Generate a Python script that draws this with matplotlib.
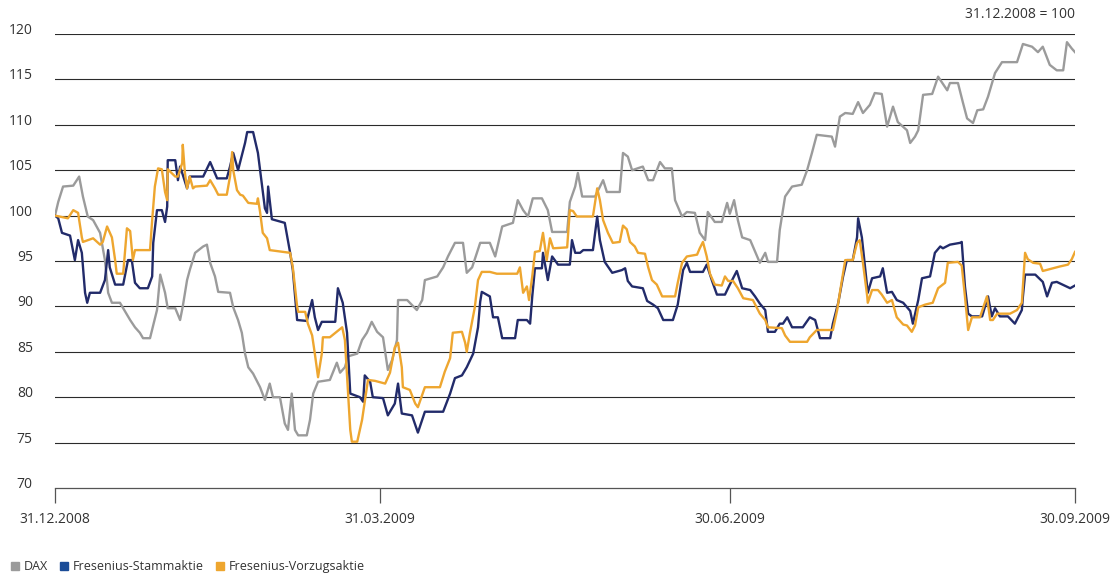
import matplotlib
matplotlib.use('Agg')
import matplotlib.pyplot as plt
from matplotlib.lines import Line2D

plt.rcParams['font.family'] = ['Open Sans', 'DejaVu Sans']

# Handelstage seit 31.12.2008, Index 31.12.2008 = 100
dax_t = [0, 0.6, 1.5, 3.4, 4.5, 5.2, 6.1, 7.1, 8.4, 9.3, 9.9, 10.6, 12.1, 14.0, 14.9, 15.8, 16.4, 17.7, 19.0, 19.6,
         20.5, 21.0, 22.4, 23.3, 23.8, 24.6, 25.1, 26.1, 27.6, 28.3, 28.9, 29.8, 30.4, 32.6, 33.2, 34.1, 34.8, 35.4,
         36.0, 36.9, 38.2, 39.1, 40.0, 40.6, 41.9, 42.8, 43.4, 44.1, 44.7, 45.3, 46.9, 47.5, 48.1, 49.0, 51.2, 52.5,
         53.1, 54.0, 54.6, 56.3, 57.2, 58.1, 59.0, 60.0, 61.1, 62.0, 62.8, 63.7, 63.9, 65.6, 67.4, 68.4, 68.9, 71.2,
         72.3, 73.2, 74.5, 76.0, 76.7, 77.7, 78.6, 79.2, 81.0, 82.0, 83.3, 85.3, 86.2, 87.2, 88.1, 89.0, 90.7, 91.8,
         92.6, 95.4, 95.9, 96.9, 97.4, 98.2, 100.6, 102.1, 102.8, 105.2, 105.8, 106.7, 107.5, 109.5, 110.5, 111.4,
         112.7, 113.6, 114.9, 115.5, 116.8, 117.7, 119.2, 120.1, 121.1, 121.6, 122.9, 124.2, 125.2, 125.7, 126.5,
         127.2, 128.0, 129.5, 130.8, 131.3, 132.3, 132.8, 134.5, 135.0, 136.0, 137.3, 139.1, 140.1, 141.0, 141.9,
         144.7, 145.3, 146.2, 147.2, 148.6, 149.6, 150.5, 151.8, 152.7, 154.0, 155.0, 156.1, 157.0, 158.7, 159.3,
         160.2, 160.8, 161.7, 163.4, 164.5, 166.2, 166.7, 168.2, 169.1, 169.9, 171.0, 171.8, 172.9, 173.8, 175.1,
         176.4, 179.2, 180.3, 182.0, 183.1, 184.0, 185.3, 186.6, 187.8, 188.5, 189.4, 190.0]
dax = [100, 101.5, 103.2, 103.3, 104.3, 102.1, 99.9, 99.5, 98.1, 95.1, 91.5, 90.4, 90.4, 88.5, 87.7, 87.1, 86.5, 86.5,
       89.6, 93.5, 91.5, 89.8, 89.8, 88.5, 90.0, 92.9, 94.0, 95.9, 96.6, 96.8, 94.8, 93.3, 91.6, 91.5, 89.9, 88.5,
       87.1, 84.8, 83.3, 82.6, 81.1, 79.7, 81.5, 80.0, 80.0, 77.1, 76.4, 80.4, 76.4, 75.8, 75.8, 77.5, 80.4, 81.7,
       81.9, 83.8, 82.7, 83.3, 84.5, 84.8, 86.3, 87.1, 88.3, 87.2, 86.6, 83.0, 84.1, 86.3, 90.7, 90.7, 89.6, 90.7,
       92.9, 93.3, 94.3, 95.5, 97.0, 97.0, 93.7, 94.3, 95.9, 97.0, 97.0, 95.5, 98.8, 99.2, 101.7, 100.6, 99.9, 101.9,
       101.9, 100.6, 98.2, 98.2, 101.5, 103.2, 104.7, 102.1, 102.1, 103.9, 102.6, 102.6, 106.9, 106.5, 105.0, 105.4,
       103.9, 103.9, 105.9, 105.2, 105.2, 101.7, 99.9, 100.4, 100.3, 98.1, 97.3, 100.4, 99.3, 99.3, 101.4, 100.2,
       101.7, 99.5, 97.6, 97.3, 95.5, 94.8, 95.9, 94.9, 94.9, 98.4, 102.1, 103.2, 103.4, 105.0, 106.9, 108.9, 108.7,
       107.6, 110.9, 111.3, 111.2, 112.5, 111.3, 112.2, 113.5, 113.4, 109.8, 112.0, 110.3, 109.4, 108.0, 108.7,
       109.4, 113.3, 113.4, 115.3, 113.8, 114.6, 114.6, 112.5, 110.7, 110.2, 111.6, 111.7, 113.1, 115.7, 116.9,
       116.9, 118.9, 118.6, 118.0, 118.6, 116.6, 116.0, 116.0, 119.1, 118.4, 118.0]

stamm_t = [0, 0.6, 1.3, 2.8, 3.7, 4.3, 5.0, 5.6, 6.0, 6.5, 8.4, 9.3, 9.9, 10.2, 11.2, 12.7, 13.6, 14.3, 14.9, 15.8,
           17.3, 18.1, 18.3, 19.0, 19.9, 20.5, 20.9, 21.0, 22.4, 22.9, 23.3, 23.8, 24.6, 25.1, 27.6, 28.9, 30.2, 32.0,
           32.6, 33.2, 34.1, 35.4, 35.8, 36.9, 37.8, 38.6, 39.1, 39.5, 39.7, 40.4, 42.8, 43.8, 44.3, 45.1, 46.9, 47.9,
           48.4, 49.0, 49.7, 52.2, 52.7, 53.6, 54.4, 55.0, 56.8, 57.4, 57.7, 58.7, 59.2, 61.1, 62.0, 63.3, 63.9, 64.6,
           66.5, 67.6, 68.9, 72.3, 73.6, 74.5, 75.8, 76.7, 77.9, 78.8, 79.2, 79.5, 81.0, 81.6, 82.5, 83.3, 85.7, 86.2,
           87.9, 88.5, 88.9, 89.4, 90.7, 90.9, 91.8, 92.6, 93.1, 93.7, 95.9, 96.3, 96.9, 97.8, 98.4, 100.2, 101.0,
           101.5, 102.4, 103.8, 105.6, 106.2, 106.7, 107.5, 109.5, 110.3, 111.4, 112.3, 113.3, 115.1, 116.0, 117.0,
           117.7, 118.3, 120.7, 121.4, 122.4, 123.3, 124.8, 125.7, 127.0, 128.0, 129.5, 130.4, 131.3, 132.3, 132.8,
           134.1, 135.0, 135.6, 136.4, 137.3, 139.3, 140.6, 141.6, 142.5, 144.4, 144.9, 145.9, 146.8, 147.5, 148.6,
           149.4, 149.6, 150.3, 150.9, 151.4, 152.2, 153.7, 154.2, 155.0, 155.9, 156.8, 158.0, 159.3, 159.8, 160.8,
           161.5, 163.0, 163.9, 164.9, 165.4, 166.7, 168.6, 168.9, 169.5, 170.1, 170.8, 172.7, 173.8, 174.5, 175.1,
           176.0, 177.5, 178.8, 180.1, 180.3, 180.7, 182.6, 184.0, 184.8, 185.7, 186.6, 189.1, 190.0]
stamm = [100, 99.7, 98.1, 97.8, 95.1, 97.3, 95.9, 91.5, 90.4, 91.5, 91.5, 92.9, 96.2, 94.3, 92.4, 92.4, 95.1, 95.1,
         92.6, 92.0, 92.0, 93.3, 97.0, 100.6, 100.6, 99.3, 101.0, 106.1, 106.1, 103.9, 105.4, 104.5, 103.0, 104.3,
         104.3, 105.9, 104.1, 104.1, 105.4, 106.9, 105.0, 108.0, 109.2, 109.2, 106.9, 103.2, 100.8, 100.3, 103.2,
         99.6, 99.2, 95.9, 94.0, 88.5, 88.4, 90.7, 88.8, 87.4, 88.3, 88.3, 92.0, 90.4, 87.1, 80.4, 80.0, 79.5, 82.4,
         81.7, 80.0, 79.9, 78.0, 79.3, 81.5, 78.2, 78.0, 76.1, 78.4, 78.4, 80.4, 82.1, 82.4, 83.3, 84.8, 87.7, 90.5,
         91.6, 91.1, 88.8, 88.8, 86.5, 86.5, 88.5, 88.5, 88.1, 91.1, 94.2, 94.2, 95.9, 92.9, 95.5, 95.1, 94.6, 94.6,
         97.3, 95.9, 95.9, 96.2, 96.2, 99.9, 97.3, 94.9, 93.7, 94.0, 94.2, 92.8, 92.2, 92.0, 90.6, 90.2, 89.8, 88.5,
         88.5, 90.2, 94.0, 94.8, 93.8, 93.8, 94.6, 92.8, 91.3, 91.3, 92.4, 93.9, 92.0, 91.8, 91.1, 90.3, 89.6, 87.2,
         87.2, 88.1, 88.1, 88.8, 87.7, 87.7, 88.8, 88.5, 86.5, 86.5, 88.1, 90.4, 93.3, 95.1, 95.1, 97.6, 99.7, 97.6,
         94.3, 91.5, 93.1, 93.3, 94.2, 91.5, 91.6, 90.7, 90.4, 89.5, 88.1, 90.7, 93.1, 93.3, 95.9, 96.6, 96.4, 96.8,
         97.0, 97.1, 92.2, 89.2, 88.9, 88.9, 91.1, 88.9, 89.8, 88.9, 88.9, 88.1, 89.6, 91.1, 93.5, 93.5, 92.7, 91.1,
         92.6, 92.7, 92.0, 92.3]

vorzug_t = [0, 2.4, 3.4, 4.3, 5.0, 5.2, 7.1, 8.4, 8.9, 9.7, 10.6, 11.2, 11.5, 12.7, 13.4, 14.0, 14.5, 14.9, 17.7,
            18.1, 18.6, 19.2, 19.9, 20.5, 20.9, 21.0, 22.4, 22.9, 23.7, 23.8, 24.2, 24.6, 25.1, 25.7, 26.1, 28.3,
            28.9, 29.8, 30.4, 32.0, 32.6, 33.0, 33.2, 33.9, 34.5, 35.0, 36.0, 37.6, 37.8, 38.2, 38.7, 39.5, 40.0,
            43.8, 44.3, 45.1, 45.3, 46.6, 47.1, 47.9, 48.4, 49.0, 49.7, 49.9, 51.2, 53.5, 54.0, 54.6, 55.0, 55.3,
            56.3, 57.2, 58.3, 59.6, 61.5, 62.4, 63.3, 63.9, 64.6, 64.8, 66.1, 67.1, 67.6, 68.9, 71.7, 72.6, 73.6,
            74.1, 75.8, 76.4, 76.7, 77.3, 78.2, 78.8, 79.5, 81.0, 82.3, 86.1, 86.6, 87.2, 87.9, 88.3, 88.9, 89.4,
            90.3, 90.9, 91.6, 92.2, 92.8, 95.4, 95.9, 96.5, 97.2, 100.2, 101.0, 101.5, 102.1, 103.0, 103.9, 105.2,
            105.8, 106.5, 107.1, 108.0, 108.6, 109.9, 110.5, 111.2, 112.1, 113.1, 115.5, 116.0, 116.8, 117.7, 119.6,
            120.1, 120.7, 121.4, 122.0, 122.9, 124.2, 124.8, 125.4, 126.3, 127.2, 128.2, 130.0, 131.3, 132.3, 132.8,
            135.4, 136.0, 136.9, 140.1, 140.6, 141.9, 144.9, 145.7, 146.2, 147.2, 148.6, 149.4, 149.9, 150.5, 151.3,
            151.4, 152.2, 153.3, 154.0, 155.0, 155.9, 156.8, 158.0, 158.7, 159.6, 160.2, 160.8, 162.1, 163.5, 164.5,
            165.8, 166.3, 168.2, 168.9, 169.5, 170.1, 170.8, 172.3, 173.6, 174.2, 174.7, 175.5, 177.9, 179.2, 180.1,
            180.7, 181.2, 182.2, 183.5, 184.0, 185.9, 187.2, 188.7, 189.4, 190.0]
vorzug = [100, 99.7, 100.6, 100.3, 97.6, 97.1, 97.5, 96.8, 97.1, 98.8, 97.6, 95.1, 93.6, 93.6, 98.6, 98.3, 95.1,
          96.2, 96.2, 99.5, 103.2, 105.2, 105.1, 102.6, 101.7, 105.1, 104.3, 104.3, 105.8, 107.8, 104.7, 103.0,
          104.3, 103.0, 103.2, 103.3, 103.9, 103.0, 102.3, 102.3, 104.3, 107.0, 105.0, 102.8, 102.3, 102.2, 101.4,
          101.3, 101.9, 100.4, 98.1, 97.5, 96.2, 95.9, 94.3, 90.0, 89.4, 89.4, 88.1, 86.8, 84.8, 82.2, 84.8, 86.6,
          86.6, 87.7, 86.3, 80.4, 76.4, 75.1, 75.1, 77.5, 81.9, 81.8, 81.5, 82.7, 85.5, 86.0, 83.3, 81.1, 80.8, 79.3,
          78.9, 81.1, 81.1, 82.8, 84.3, 87.1, 87.2, 86.0, 85.0, 87.1, 89.9, 92.9, 93.8, 93.8, 93.6, 93.6, 94.3, 91.5,
          92.2, 90.7, 93.3, 96.0, 96.1, 98.1, 95.1, 97.5, 96.4, 96.5, 100.6, 100.5, 99.9, 99.9, 103.0, 101.7, 99.5,
          98.1, 97.0, 97.1, 98.9, 98.5, 97.1, 96.6, 95.9, 95.8, 94.3, 92.9, 92.4, 91.1, 91.1, 92.6, 94.8, 95.5, 95.7,
          96.4, 97.1, 95.5, 93.6, 92.4, 92.3, 93.3, 92.8, 92.8, 92.0, 90.9, 90.7, 89.2, 88.5, 87.7, 87.6, 86.8, 86.1,
          86.1, 86.6, 87.4, 87.4, 89.6, 91.5, 95.1, 95.1, 97.0, 97.3, 94.8, 91.1, 90.4, 91.8, 91.8, 91.3, 90.4, 90.7,
          88.8, 88.0, 87.9, 87.2, 87.9, 89.9, 90.2, 90.4, 92.0, 92.6, 94.8, 94.9, 94.5, 91.1, 87.4, 88.8, 88.8, 91.1,
          88.5, 88.5, 89.2, 89.2, 89.6, 90.4, 95.9, 95.2, 94.8, 94.7, 93.9, 94.2, 94.4, 94.6, 95.2, 96.0]

x_ticks = [0, 60.5, 125.7, 190]
x_labels = ['31.12.2008', '31.03.2009', '30.06.2009', '30.09.2009']
y_ticks = [70, 75, 80, 85, 90, 95, 100, 105, 110, 115, 120]

c_dax = '#9b9b9b'
c_stamm = '#222b6a'
c_vorzug = '#eea62f'

fig = plt.figure(figsize=(11.12, 5.73), dpi=100)
ax = fig.add_axes([55 / 1112, 85 / 573, 1020 / 1112, 454 / 573])

for y in y_ticks[1:]:
    ax.axhline(y, color='#2b2b2b', lw=0.8, zorder=1)

ax.plot(dax_t, dax, color=c_dax, lw=1.7, zorder=2)
ax.plot(stamm_t, stamm, color=c_stamm, lw=1.7, zorder=3)
ax.plot(vorzug_t, vorzug, color=c_vorzug, lw=1.7, zorder=4)

ax.set_xlim(0, 190)
ax.set_ylim(70, 120)
for s in ['top', 'right', 'left']:
    ax.spines[s].set_visible(False)
ax.spines['bottom'].set_color('#555555')
ax.spines['bottom'].set_linewidth(0.9)

ax.set_yticks(y_ticks)
ax.set_yticklabels([str(v) for v in y_ticks], va='baseline')
ax.tick_params(axis='y', length=0, pad=16, labelsize=10, labelcolor='#333333')
ax.set_xticks(x_ticks)
ax.set_xticklabels(x_labels)
ax.tick_params(axis='x', length=11, width=0.9, color='#555555', pad=6, labelsize=10, labelcolor='#333333')

fig.text(1075 / 1112, 1 - 15 / 573, '31.12.2008 = 100', ha='right', va='center', fontsize=10, color='#333333')

handles = [Line2D([], [], ls='none', marker='s', markersize=6, color='#9b9b9b'),
           Line2D([], [], ls='none', marker='s', markersize=6, color='#1a4c97'),
           Line2D([], [], ls='none', marker='s', markersize=6, color='#eea62f')]
fig.legend(handles, ['DAX', 'Fresenius-Stammaktie', 'Fresenius-Vorzugsaktie'], loc='lower left',
           bbox_to_anchor=(0.0, -0.02), ncol=3, frameon=False, fontsize=9, handlelength=0.6,
           handletextpad=0.4, columnspacing=1.0, labelcolor='#333333')

fig.savefig('out.png', dpi=100)
